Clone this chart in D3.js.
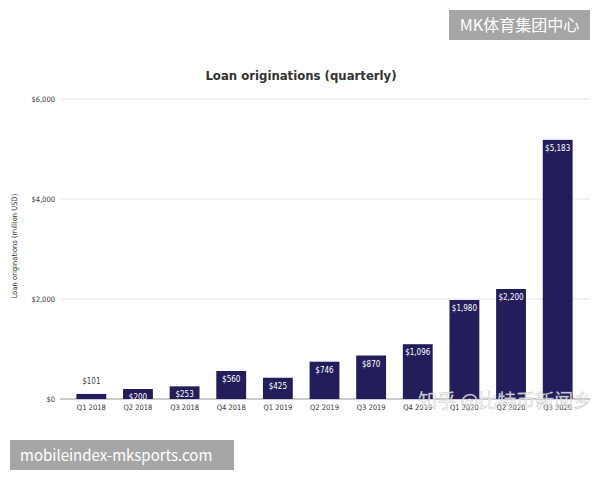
<!DOCTYPE html>
<html>
<head>
<meta charset="utf-8">
<script src="https://cdn.jsdelivr.net/npm/d3@7"></script>
<style>
  body { margin: 0; background: #fff; }
  svg { display: block; font-family: "DejaVu Sans Condensed", "DejaVu Sans", sans-serif; }
</style>
</head>
<body>
<svg id="chart" width="600" height="480"></svg>
<script>
var quarters = ["Q1 2018", "Q2 2018", "Q3 2018", "Q4 2018", "Q1 2019", "Q2 2019", "Q3 2019", "Q4 2019", "Q1 2020", "Q2 2020", "Q3 2020"];
var originations = [101, 200, 253, 560, 425, 746, 870, 1096, 1980, 2200, 5183];
var yTicks = [0, 2000, 4000, 6000];

var svg = d3.select("#chart");

var x = d3.scaleBand()
    .domain(quarters)
    .range([68, 581])
    .paddingInner(0.36)
    .paddingOuter(0.18);

var y = d3.scaleLinear()
    .domain([0, 6000])
    .range([399, 99]);

var money = d3.format("$,");

// gridlines
svg.append("g")
  .selectAll("line")
  .data(yTicks)
  .enter().append("line")
    .attr("x1", 60)
    .attr("x2", 590)
    .attr("y1", function(d) { return y(d); })
    .attr("y2", function(d) { return y(d); })
    .attr("stroke", function(d) { return d == 0 ? "#999" : "#e6e6e6"; })
    .attr("stroke-width", 1);

// y tick labels
svg.append("g")
  .selectAll("text")
  .data(yTicks)
  .enter().append("text")
    .attr("x", 55)
    .attr("y", function(d) { return y(d); })
    .attr("dy", "0.35em")
    .attr("text-anchor", "end")
    .attr("font-size", 7.5)
    .attr("fill", "#333")
    .text(function(d) { return money(d); });

// y axis title
svg.append("text")
  .attr("transform", "translate(17,246) rotate(-90)")
  .attr("text-anchor", "middle")
  .attr("font-size", 7.5)
  .attr("fill", "#333")
  .text("Loan originations (million USD)");

// title
svg.append("text")
  .attr("x", 301)
  .attr("y", 80)
  .attr("text-anchor", "middle")
  .attr("font-size", 13)
  .attr("font-weight", "bold")
  .attr("fill", "#333")
  .text("Loan originations (quarterly)");

// bars
var bar = svg.append("g")
  .selectAll("g")
  .data(quarters.map(function(q, i) { return { q: q, v: originations[i] }; }))
  .enter().append("g");

bar.append("rect")
    .attr("x", function(d) { return x(d.q); })
    .attr("y", function(d) { return y(d.v); })
    .attr("width", x.bandwidth())
    .attr("height", function(d) { return y(0) - y(d.v); })
    .attr("fill", "#231d5c");

bar.append("text")
    .attr("x", function(d) { return x(d.q) + x.bandwidth() / 2; })
    .attr("y", function(d) { return d.v < 150 ? y(d.v) - 10 : y(d.v) + 11; })
    .attr("text-anchor", "middle")
    .attr("font-size", 8)
    .attr("fill", function(d) { return d.v < 150 ? "#444" : "#fff"; })
    .text(function(d) { return money(d.v); });

// x labels
svg.append("g")
  .selectAll("text")
  .data(quarters)
  .enter().append("text")
    .attr("x", function(d) { return x(d) + x.bandwidth() / 2; })
    .attr("y", 410)
    .attr("text-anchor", "middle")
    .attr("font-size", 7.5)
    .attr("fill", "#333")
    .text(function(d) { return d; });

// zhihu watermark (white with a faint grey edge, sits over the bar bottoms)
svg.append("text")
  .attr("x", 418)
  .attr("y", 408)
  .attr("font-family", "Noto Sans CJK SC")
  .attr("font-size", 19)
  .attr("fill", "#fff")
  .attr("fill-opacity", 0.8)
  .attr("stroke", "#aaa")
  .attr("stroke-width", 0.5)
  .attr("stroke-opacity", 0.7)
  .text("知乎 @比特币新闻乡");

// site badges
svg.append("rect").attr("x", 449).attr("y", 10).attr("width", 141).attr("height", 30).attr("fill", "#a6a6a6");
svg.append("text")
  .attr("x", 519.5).attr("y", 31)
  .attr("text-anchor", "middle")
  .attr("font-family", "Noto Sans CJK SC")
  .attr("font-size", 16)
  .attr("fill", "#fff")
  .text("MK体育集团中心");

svg.append("rect").attr("x", 10).attr("y", 440).attr("width", 224).attr("height", 30).attr("fill", "#a6a6a6");
svg.append("text")
  .attr("x", 20).attr("y", 461)
  .attr("font-family", "Noto Sans CJK SC")
  .attr("font-size", 15)
  .attr("fill", "#fff")
  .text("mobileindex-mksports.com");
</script>
</body>
</html>
